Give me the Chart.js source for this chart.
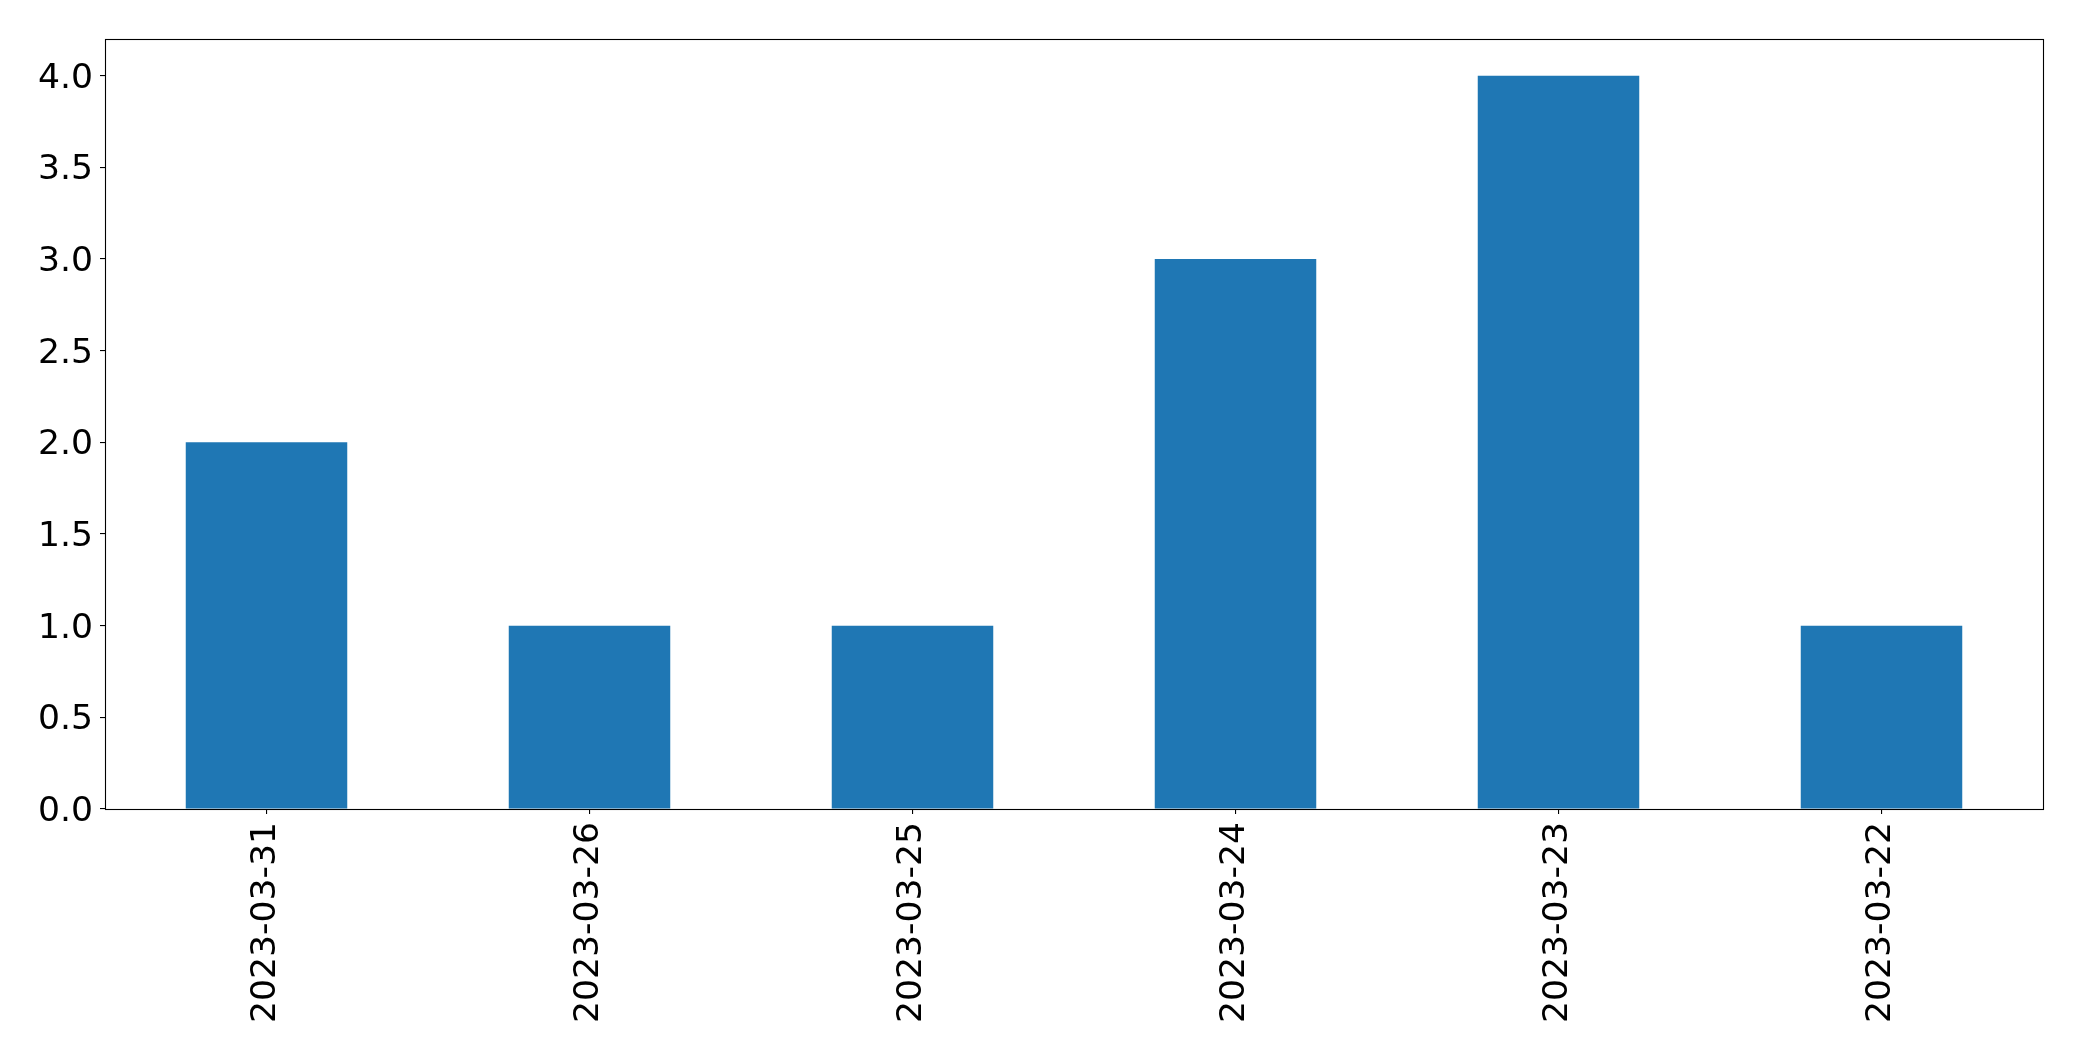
<!DOCTYPE html>
<html>
<head>
<meta charset="utf-8">
<script src="https://cdn.jsdelivr.net/npm/chart.js@4"></script>
<style>
html,body{margin:0;padding:0;background:#fff;overflow:hidden;}
canvas{display:block;}
</style>
</head>
<body>
<canvas id="c" width="2082" height="1061"></canvas>
<script>
const categories = ["2023-03-31","2023-03-26","2023-03-25","2023-03-24","2023-03-23","2023-03-22"];
const values = [2, 1, 1, 3, 4, 1];
const yTickValues = [0, 0.5, 1, 1.5, 2, 2.5, 3, 3.5, 4];

const FONT = "'DejaVu Sans', sans-serif";
const FONT_SIZE = 34.6;

const frame = {
  id: 'frame',
  afterDraw(chart) {
    const {ctx, chartArea: a} = chart;
    ctx.save();
    ctx.strokeStyle = '#000';
    ctx.lineWidth = 1.1;
    ctx.strokeRect(Math.round(a.left) + 0.5, Math.round(a.top) + 0.5,
                   Math.round(a.right - a.left), Math.round(a.bottom - a.top));
    ctx.restore();
  }
};

new Chart(document.getElementById('c'), {
  type: 'bar',
  data: {
    labels: categories,
    datasets: [{
      data: values,
      backgroundColor: '#1f77b4',
      borderWidth: 0,
      barPercentage: 0.5,
      categoryPercentage: 1.0
    }]
  },
  options: {
    responsive: false,
    animation: false,
    devicePixelRatio: 1,
    layout: { padding: { top: 39, right: 39, left: 0, bottom: 0 } },
    plugins: { legend: { display: false }, tooltip: { enabled: false } },
    scales: {
      x: {
        border: { display: false },
        grid: { display: true, drawOnChartArea: false, drawTicks: true, tickLength: 5, color: '#000', lineWidth: 1.1, offset: false },
        ticks: {
          color: '#000',
          font: { family: FONT, size: FONT_SIZE },
          minRotation: 90, maxRotation: 90,
          padding: 8,
          autoSkip: false
        },
        afterFit(scale) { scale.height = 252; }
      },
      y: {
        min: 0, max: 4.2,
        border: { display: false },
        grid: { display: true, drawOnChartArea: false, drawTicks: true, tickLength: 5, color: '#000', lineWidth: 1.1 },
        afterBuildTicks(scale) { scale.ticks = yTickValues.map(v => ({ value: v })); },
        ticks: {
          color: '#000',
          font: { family: FONT, size: FONT_SIZE },
          padding: 7,
          callback: (v) => Number(v).toFixed(1)
        },
        afterFit(scale) { scale.width = 105; },
        afterUpdate(scale) {
          if (!scale._shiftPatched) {
            const orig = scale.drawLabels;
            scale.drawLabels = function (area) {
              const ctx = this.ctx;
              ctx.save();
              ctx.translate(0, 3);
              orig.call(this, area);
              ctx.restore();
            };
            scale._shiftPatched = true;
          }
        }
      }
    }
  },
  plugins: [frame]
});
</script>
</body>
</html>
